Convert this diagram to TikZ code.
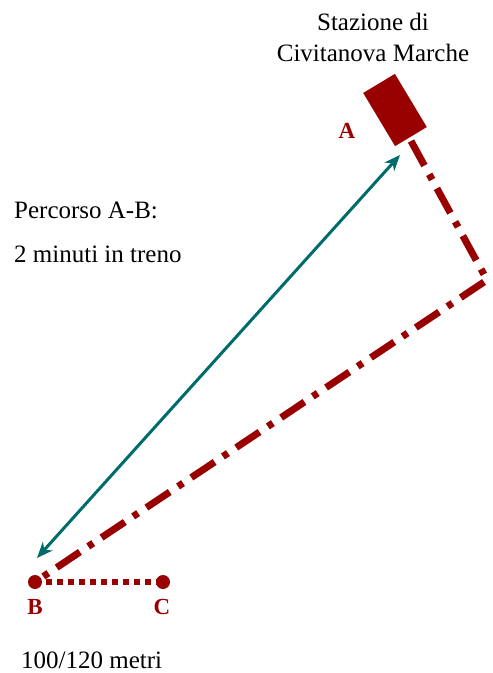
\documentclass[tikz,border=0pt]{standalone}
\usepackage{fontspec}
\setmainfont{Liberation Serif}
\usetikzlibrary{arrows.meta}
\definecolor{dred}{HTML}{990000}
\definecolor{teal1}{HTML}{006B6B}
\tikzset{
  txt/.style={font=\fontsize{25}{30}\selectfont, text=black, inner sep=0pt},
  lbl/.style={font=\fontsize{23}{27}\selectfont\bfseries, text=dred, inner sep=0pt},
  route/.style={draw=dred, line width=7pt, dash pattern=on 28pt off 10pt on 6pt off 10pt},
  walk/.style={draw=dred, line width=6.5pt, dash pattern=on 6pt off 5pt},
  dotpt/.style={circle, fill=dred, minimum size=14pt, inner sep=0pt},
  trip/.style={draw=teal1, line width=3pt, {Stealth[length=16pt,width=13pt]}-{Stealth[length=16pt,width=13pt]}}
}
\begin{document}
\begin{tikzpicture}[x=1pt,y=-1pt]
\useasboundingbox (0,0) rectangle (493,673);
\node[txt] (t1) at (373,22) {Stazione di};
\node[txt] (t2) at (373,53) {Civitanova Marche};
\node[fill=dred, minimum width=37pt, minimum height=62pt, inner sep=0pt, rotate=31] (st) at (395,110) {};
\node[lbl] (la) at (347,131) {A};
\node[txt, anchor=west] (p1) at (14,210) {Percorso A-B:};
\node[txt, anchor=west] (p2) at (14,254) {2 minuti in treno};
\coordinate (a0) at (411,141);
\coordinate (k) at (487,280);
\node[dotpt] (b) at (35,582) {};
\node[dotpt] (c) at (163,582) {};
\draw[route] (a0) -- (k) -- (b.center);
\draw[walk] (b.center) -- (c.center);
\coordinate (ta) at (400,155);
\coordinate (tb) at (37,558);
\draw[trip] (tb) -- (ta);
\node[lbl] (lb) at (35,607) {B};
\node[lbl] (lc) at (162,607) {C};
\node[txt, anchor=west] (m) at (21,660) {100/120 metri};
\end{tikzpicture}
\end{document}
